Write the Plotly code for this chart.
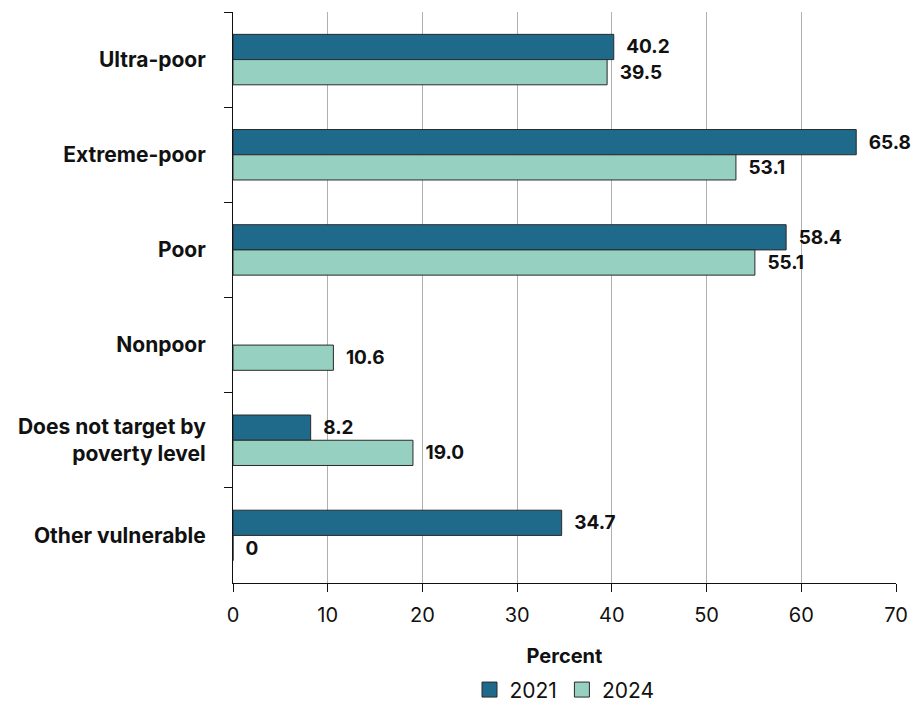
import plotly.graph_objects as go

categories = ["Ultra-poor", "Extreme-poor", "Poor", "Nonpoor",
              "Does not target by<br>poverty level", "Other vulnerable"]
values_2021 = [40.2, 65.8, 58.4, None, 8.2, 34.7]
values_2024 = [39.5, 53.1, 55.1, 10.6, 19.0, 0]
labels_2021 = ["40.2", "65.8", "58.4", "", "8.2", "34.7"]
labels_2024 = ["39.5", "53.1", "55.1", "10.6", "19.0", "0"]
x_ticks = [0, 10, 20, 30, 40, 50, 60, 70]
series_names = ["2021", "2024"]
series_colors = ["#1F6A8A", "#96D0C0"]

FONT = "Inter"
PAD = "\u2002"  # gap between bar end and its value label
OUTLINE = "#2a2a2a"

fig = go.Figure()
for name, vals, labs, col in zip(series_names, [values_2021, values_2024],
                                 [labels_2021, labels_2024], series_colors):
    fig.add_trace(go.Bar(
        y=categories, x=vals, name=name, orientation="h", showlegend=False,
        marker=dict(color=col, line=dict(color=OUTLINE, width=1)),
        text=[PAD + t if t else "" for t in labs],
        textposition="outside", cliponaxis=False, constraintext="none",
        textfont=dict(family=FONT, size=19, color="#111111", weight="bold"),
    ))
# legend entries with larger square swatches
for name, col in zip(series_names, series_colors):
    fig.add_trace(go.Scatter(
        x=[None], y=[None], mode="markers", name=name,
        marker=dict(symbol="square", size=15, color=col, line=dict(color=OUTLINE, width=1)),
    ))

fig.update_layout(
    width=912, height=704,
    margin=dict(l=233, r=16, t=12, b=121, autoexpand=False),
    barmode="group", bargap=0.47, bargroupgap=0,
    plot_bgcolor="white", paper_bgcolor="white",
    font=dict(family=FONT, color="#111111"),
    hovermode=False,
    showlegend=True,
    legend=dict(orientation="h", x=0.5, xanchor="center",
                yref="container", y=0.02, yanchor="middle",
                font=dict(family=FONT, size=21, color="#111111"),
                traceorder="normal", itemwidth=30, tracegroupgap=0),
    xaxis=dict(range=[0, 70], tickvals=x_ticks, ticktext=[str(v) for v in x_ticks],
               showgrid=True, gridcolor="#b0b0b0", gridwidth=1,
               showline=True, linecolor="#111111", linewidth=1,
               ticks="outside", ticklen=8, tickcolor="#111111",
               tickfont=dict(family=FONT, size=20, color="#111111"),
               ticklabelstandoff=6,
               zeroline=False,
               title=dict(text="<b>Percent</b>", font=dict(family=FONT, size=20, color="#111111"),
                          standoff=22)),
    yaxis=dict(categoryorder="array", categoryarray=categories, autorange="reversed",
               showline=True, linecolor="#111111", linewidth=1,
               ticks="outside", ticklen=8, tickcolor="#111111", tickson="boundaries",
               showgrid=False,
               tickfont=dict(family=FONT, size=21, color="#111111", weight="bold"),
               ticklabelstandoff=22),
)

fig.write_html("out.html")
